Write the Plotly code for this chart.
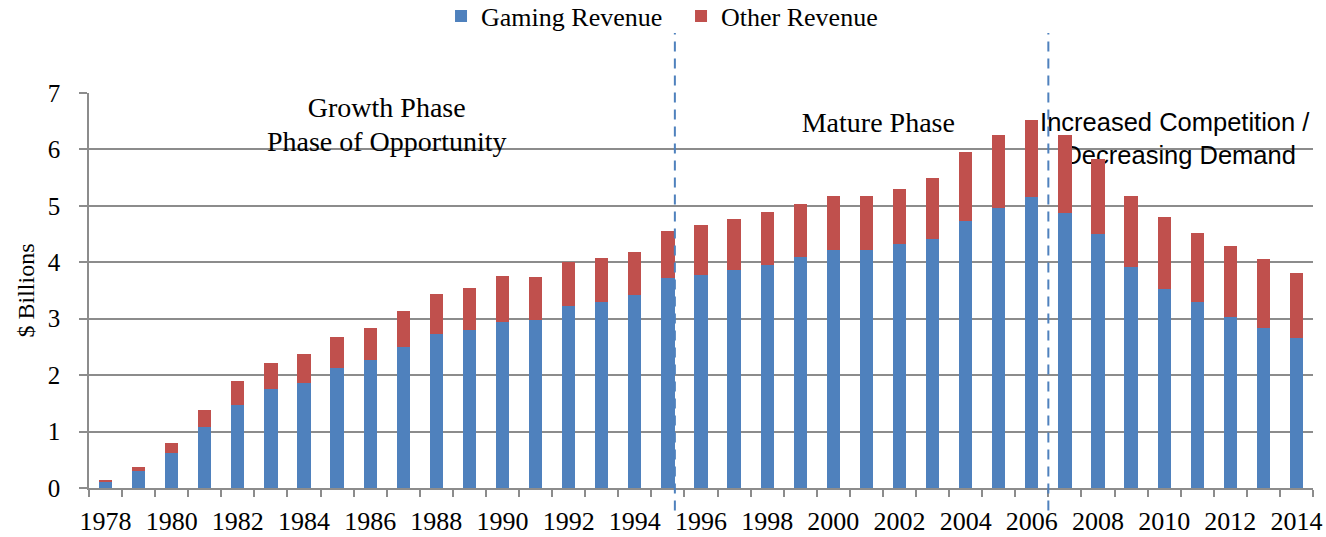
import plotly.graph_objects as go

years = [1978, 1979, 1980, 1981, 1982, 1983, 1984, 1985, 1986, 1987,
         1988, 1989, 1990, 1991, 1992, 1993, 1994, 1995, 1996, 1997,
         1998, 1999, 2000, 2001, 2002, 2003, 2004, 2005, 2006, 2007,
         2008, 2009, 2010, 2011, 2012, 2013, 2014]

gaming_revenue = [0.12, 0.31, 0.62, 1.08, 1.47, 1.75, 1.86, 2.12, 2.27, 2.50,
                  2.73, 2.80, 2.94, 2.98, 3.22, 3.30, 3.42, 3.73, 3.78, 3.86,
                  3.96, 4.09, 4.21, 4.21, 4.32, 4.42, 4.73, 4.96, 5.16, 4.88,
                  4.50, 3.91, 3.53, 3.29, 3.03, 2.83, 2.66]

other_revenue = [0.03, 0.06, 0.18, 0.30, 0.42, 0.47, 0.51, 0.56, 0.57, 0.64,
                 0.70, 0.74, 0.81, 0.76, 0.79, 0.77, 0.77, 0.82, 0.88, 0.90,
                 0.94, 0.95, 0.96, 0.96, 0.98, 1.08, 1.23, 1.29, 1.37, 1.37,
                 1.33, 1.26, 1.27, 1.23, 1.26, 1.23, 1.15]

tick_years = [1978, 1980, 1982, 1984, 1986, 1988, 1990, 1992, 1994, 1996,
              1998, 2000, 2002, 2004, 2006, 2008, 2010, 2012, 2014]
tick_labels = [str(y) for y in tick_years]

phase_breaks = [1995.21, 2006.5]

serif_texts = ["Growth Phase", "Phase of Opportunity", "Mature Phase"]
serif_x = [1986.5, 1986.5, 2001.36]
serif_y = [6.70, 6.10, 6.43]

sans_texts = ["Increased Competition /", "Decreasing Demand"]
sans_x = [2010.32, 2010.47]
sans_y = [6.44, 5.85]

BLUE = "#4F81BD"
RED = "#C0504D"
GRID = "#8C8C8C"
SERIF = "Liberation Serif, Times New Roman, serif"
SANS = "Liberation Sans, Arial, sans-serif"

fig = go.Figure()

# phase labels on the base axes (drawn beneath the bars)
fig.add_trace(go.Scatter(x=serif_x, y=serif_y, text=serif_texts, mode="text",
                         textposition="middle center", cliponaxis=False,
                         textfont=dict(family=SERIF, size=28, color="black"),
                         showlegend=False, hoverinfo="skip", xaxis="x", yaxis="y"))
fig.add_trace(go.Scatter(x=sans_x, y=sans_y, text=sans_texts, mode="text",
                         textposition="middle center", cliponaxis=False,
                         textfont=dict(family=SANS, size=25.5, color="black"),
                         showlegend=False, hoverinfo="skip", xaxis="x", yaxis="y"))

fig.add_trace(go.Bar(x=years, y=gaming_revenue, name="Gaming Revenue",
                     marker=dict(color=BLUE, line=dict(width=0)),
                     xaxis="x", yaxis="y2"))
fig.add_trace(go.Bar(x=years, y=other_revenue, name="Other Revenue",
                     marker=dict(color=RED, line=dict(width=0)),
                     xaxis="x", yaxis="y2"))

for xb in phase_breaks:
    fig.add_shape(type="line", xref="x", yref="paper", x0=xb, x1=xb,
                  y0=-0.057, y1=1.152,
                  line=dict(color=BLUE, width=2, dash="10px,7px"), layer="above")

half_years = [y - 0.5 for y in years] + [years[-1] + 0.5]

fig.update_layout(
    width=1326, height=537,
    margin=dict(l=89, r=13, t=93, b=48.5, autoexpand=False),
    paper_bgcolor="white", plot_bgcolor="white",
    barmode="stack", bargap=0.6,
    font=dict(family=SERIF, size=24, color="black"),
    legend=dict(orientation="h", x=0.2876, xanchor="left", y=1.195, yanchor="middle",
                entrywidth=195, entrywidthmode="pixels",
                font=dict(family=SERIF, size=26, color="black"),
                traceorder="normal", itemclick=False, bgcolor="rgba(0,0,0,0)"),
    xaxis=dict(range=[1977.5, 2014.5], tickmode="array", tickvals=tick_years,
               ticktext=tick_labels, ticks="", showgrid=False, zeroline=False,
               showline=True, linecolor=GRID, linewidth=1.5,
               tickfont=dict(family=SERIF, size=26, color="black"),
               ticklabelstandoff=9,
               minor=dict(tickmode="array", tickvals=half_years, ticks="outside",
                          ticklen=7, tickwidth=1.5, tickcolor=GRID, showgrid=False)),
    yaxis=dict(range=[0, 7], dtick=1, showgrid=True, gridcolor=GRID, gridwidth=1.5,
               zeroline=False, showline=True, linecolor=GRID, linewidth=1.5,
               ticks="outside", ticklen=8, tickwidth=1.5, tickcolor=GRID,
               ticklabelstandoff=14,
               tickfont=dict(family=SERIF, size=25, color="black"),
               title=dict(text="$ Billions", font=dict(family=SERIF, size=24, color="black"),
                          standoff=6)),
    yaxis2=dict(range=[0, 7], overlaying="y", matches="y", showgrid=False,
                showticklabels=False, ticks="", showline=False, zeroline=False),
)

fig.write_html("out.html",
               config={"displayModeBar": False},
               post_script="document.body.style.margin='0px';document.body.style.overflow='hidden';")
